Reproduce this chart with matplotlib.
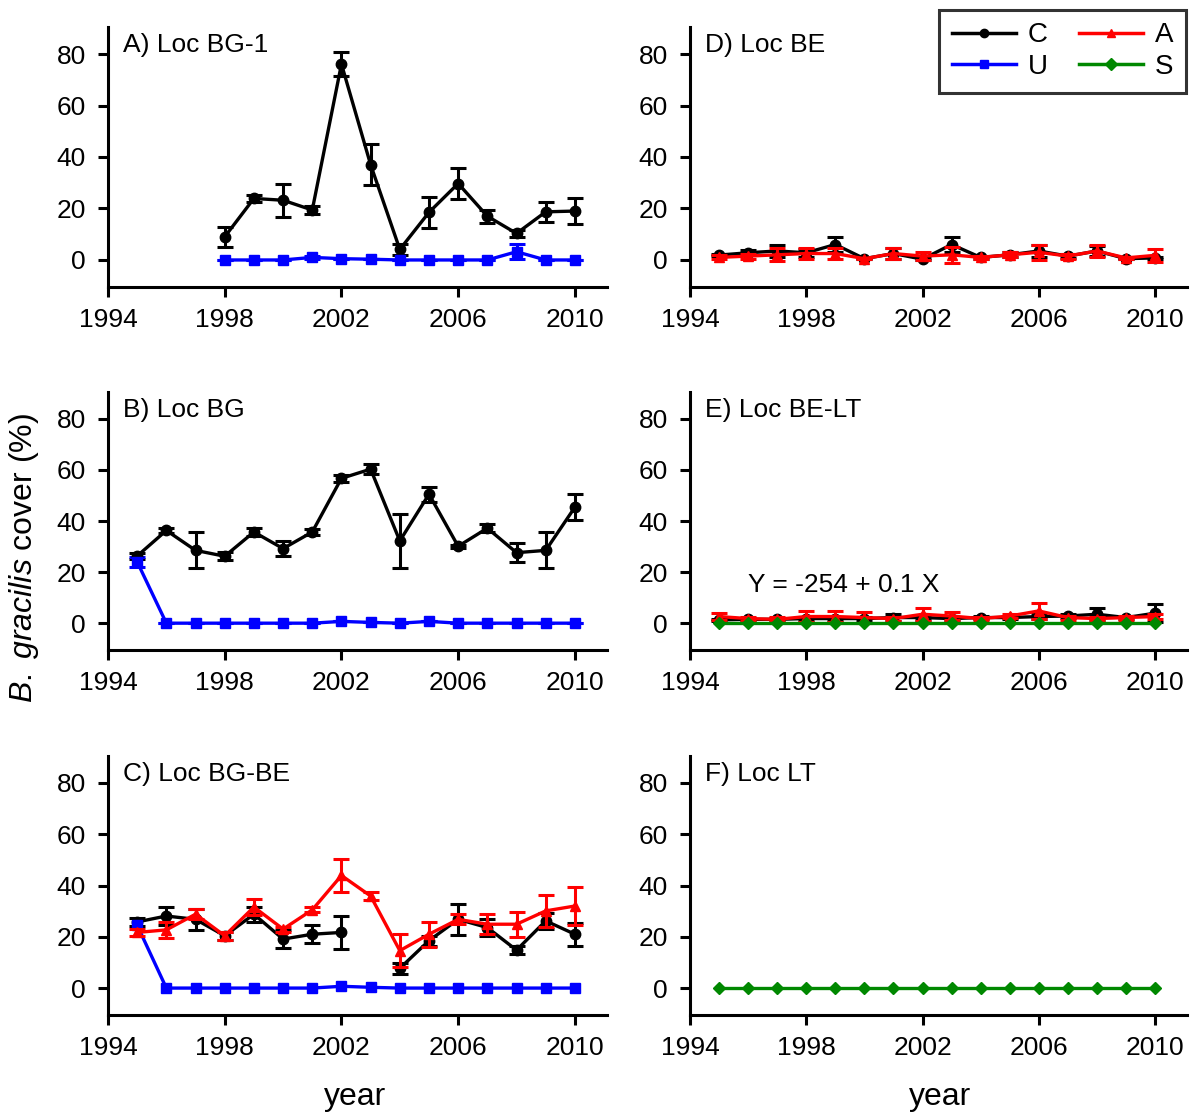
import numpy as np
import matplotlib
matplotlib.use("Agg")
import matplotlib.pyplot as plt
from matplotlib.lines import Line2D

plt.rcParams["font.family"] = ["Liberation Sans", "DejaVu Sans"]
plt.rcParams["mathtext.fontset"] = "custom"
plt.rcParams["mathtext.it"] = "Liberation Sans:italic"
plt.rcParams["mathtext.rm"] = "Liberation Sans"

nan = np.nan
years = list(range(1995, 2011))
years_a = list(range(1998, 2011))

# A) Loc BG-1
a_c = [9.0, 23.9, 23.2, 19.4, 76.1, 37.0, 4.1, 18.5, 29.7, 17.0, 10.3, 18.7, 19.0]
a_c_err = [4.0, 1.5, 6.5, 1.5, 4.5, 8.0, 2.0, 6.0, 6.0, 2.5, 1.5, 4.0, 5.0]
a_u = [0, 0, 0, 1.0, 0.5, 0.3, 0, 0, 0, 0, 3.2, 0, 0]
a_u_err = [0, 0, 0, 0.5, 0, 0, 0, 0, 0, 0, 3.0, 0, 0]

# B) Loc BG
b_c = [26.3, 36.3, 28.5, 26.2, 35.7, 29.2, 35.7, 56.7, 60.3, 32.2, 50.5, 30.1, 37.2, 27.6, 28.5, 45.4]
b_c_err = [1.0, 1.0, 7.0, 1.5, 1.5, 3.0, 1.0, 1.5, 2.0, 10.6, 3.0, 0.5, 1.5, 3.8, 7.0, 5.0]
b_u = [24.0, 0, 0, 0, 0, 0, 0, 0.7, 0.3, 0, 0.7, 0, 0, 0, 0, 0]
b_u_err = [2.0, 0, 0, 0, 0, 0, 0, 0, 0, 0, 0, 0, 0, 0, 0, 0]

# C) Loc BG-BE
c_c = [25.8, 28.1, 26.8, 20.4, 28.8, 19.1, 21.0, 21.7, nan, 7.7, 18.5, 26.8, 23.6, 14.8, 26.2, 21.0]
c_c_err = [1.5, 3.5, 4.0, 1.5, 3.0, 3.5, 3.5, 6.5, nan, 2.2, 2.0, 6.0, 3.2, 1.5, 3.0, 4.5]
c_a = [21.7, 22.7, 28.8, 20.4, 31.6, 23.0, 30.5, 43.9, 35.9, 14.6, 21.0, 26.8, 24.9, 24.9, 30.1, 32.0]
c_a_err = [1.5, 3.0, 2.0, 1.5, 3.0, 1.0, 1.0, 6.5, 1.5, 6.5, 4.8, 2.0, 3.9, 4.8, 6.2, 7.5]
c_u = [24.5, 0, 0, 0, 0, 0, 0, 0.7, 0.3, 0, 0, 0, 0, 0, 0, 0]

# D) Loc BE
d_c = [1.9, 2.8, 3.5, 2.8, 6.0, 0.5, 2.5, 0.3, 6.0, 1.0, 2.0, 3.5, 1.5, 3.5, 0.5, 0.8]
d_c_err = [0.5, 1.0, 2.5, 1.5, 2.8, 0.3, 2.0, 0.3, 2.8, 0.5, 1.0, 2.5, 0.8, 2.0, 0.3, 0.5]
d_a = [1.0, 1.5, 2.0, 2.5, 2.5, 0.5, 2.5, 1.5, 2.0, 1.0, 2.0, 3.0, 1.5, 3.5, 0.8, 1.8]
d_a_err = [0.8, 1.0, 2.5, 2.0, 2.0, 0.3, 2.0, 1.5, 3.0, 0.5, 1.0, 3.0, 1.0, 2.5, 0.5, 2.5]

# E) Loc BE-LT
e_c = [1.3, 1.5, 1.5, 1.8, 1.8, 1.8, 2.2, 2.2, 1.8, 2.2, 2.2, 2.6, 2.8, 3.5, 2.2, 3.9]
e_c_err = [0.5, 0.5, 0.5, 0.5, 0.5, 0.5, 1.5, 0.8, 0.5, 0.5, 0.5, 0.8, 0.8, 2.5, 0.5, 3.5]
e_a = [2.6, 1.8, 1.5, 2.6, 2.6, 2.2, 1.8, 3.5, 2.8, 1.8, 2.8, 4.8, 2.2, 1.8, 2.2, 2.6]
e_a_err = [1.5, 0.8, 0.8, 2.0, 2.0, 2.0, 0.8, 2.5, 1.5, 0.5, 0.8, 3.0, 0.8, 0.5, 0.8, 0.8]
e_s = [0.0] * 16

# F) Loc LT
f_s = [0.0] * 16

STYLE = {
    "C": dict(color="black", marker="o"),
    "U": dict(color="#0000ff", marker="s"),
    "A": dict(color="#ff0000", marker="^"),
    "S": dict(color="#008800", marker="D"),
}
MS = {"o": 7.5, "s": 7, "^": 7.5, "D": 6}

W, H = 1193, 1114
fig = plt.figure(figsize=(W / 100, H / 100), dpi=100)


def make_ax(left, top, right, bottom):
    return fig.add_axes([left / W, 1 - bottom / H, (right - left) / W, (bottom - top) / H])


def series(ax, x, y, key, err=None, z=3):
    st = STYLE[key]
    ax.errorbar(x, y, yerr=err, color=st["color"], marker=st["marker"], ms=MS[st["marker"]],
                lw=2.4, elinewidth=2.2, capsize=5.5, capthick=2.2, zorder=z)


def style_ax(ax, label):
    ax.set_xlim(1994, 2011.1)
    ax.set_ylim(-10.5, 90.5)
    ax.set_xticks([1994, 1998, 2002, 2006, 2010])
    ax.set_yticks([0, 20, 40, 60, 80])
    for s in ["top", "right"]:
        ax.spines[s].set_visible(False)
    for s in ["left", "bottom"]:
        ax.spines[s].set_linewidth(2.2)
    ax.tick_params(direction="out", length=7, width=2.2, labelsize=19)
    ax.tick_params(axis="x", pad=8)
    ax.tick_params(axis="y", pad=9)
    ax.text(0.03, 0.93, label, transform=ax.transAxes, fontsize=19, ha="left", va="center")


axA = make_ax(108, 27, 607, 287)
axB = make_ax(108, 392, 607, 650)
axC = make_ax(108, 756, 607, 1015)
axD = make_ax(690, 27, 1187, 287)
axE = make_ax(690, 392, 1187, 650)
axF = make_ax(690, 756, 1187, 1015)

series(axA, years_a, a_c, "C", a_c_err)
series(axA, years_a, a_u, "U", a_u_err)
style_ax(axA, "A) Loc BG-1")

series(axB, years, b_c, "C", b_c_err)
series(axB, years, b_u, "U", b_u_err)
style_ax(axB, "B) Loc BG")

series(axC, years, c_c, "C", c_c_err)
series(axC, years, c_a, "A", c_a_err, z=4)
series(axC, years, c_u, "U")
style_ax(axC, "C) Loc BG-BE")

series(axD, years, d_c, "C", d_c_err)
series(axD, years, d_a, "A", d_a_err, z=4)
style_ax(axD, "D) Loc BE")

series(axE, years, e_s, "S", z=5)
series(axE, years, e_c, "C", e_c_err)
series(axE, years, e_a, "A", e_a_err, z=4)
style_ax(axE, "E) Loc BE-LT")
axE.text(1996, 15, "Y = -254 + 0.1 X", fontsize=19, ha="left", va="center")

series(axF, years, f_s, "S")
style_ax(axF, "F) Loc LT")

fig.text(24 / W, 1 - 558 / H, r"$\it{B.\ gracilis}$ cover (%)", rotation=90,
         ha="center", va="center", fontsize=23)
fig.text(355 / W, 1 - 1097 / H, "year", ha="center", va="center", fontsize=23)
fig.text(940 / W, 1 - 1097 / H, "year", ha="center", va="center", fontsize=23)

handles = [Line2D([], [], lw=2.5, ms=6, **STYLE[k]) for k in ["C", "U", "A", "S"]]
leg = fig.legend(handles, ["C", "U", "A", "S"], ncol=2, loc="upper right",
                 bbox_to_anchor=(1186 / W, 1 - 10 / H), fontsize=20, frameon=True,
                 fancybox=False, edgecolor="black", handlelength=2.3, columnspacing=1.1,
                 handletextpad=0.45, labelspacing=0.2, borderpad=0.45, borderaxespad=0)
leg.get_frame().set_linewidth(2.2)

fig.savefig("out.png", dpi=100)
